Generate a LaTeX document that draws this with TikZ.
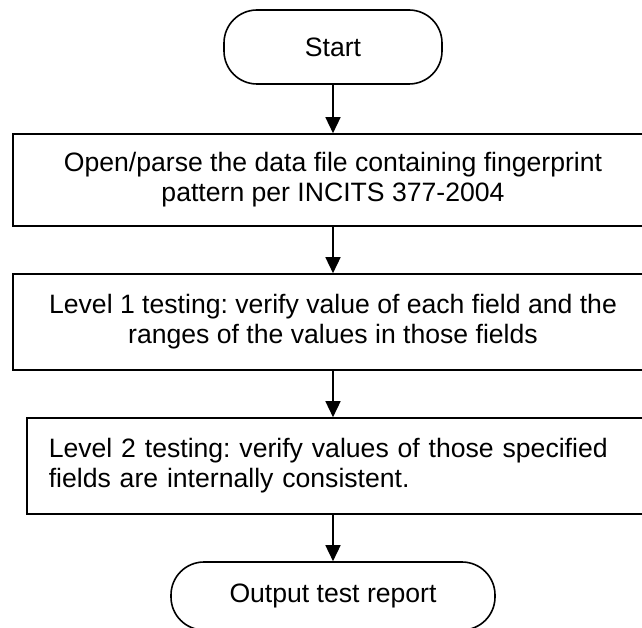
\documentclass[tikz,border=0pt]{standalone}
\usepackage{fontspec}
\setmainfont{Liberation Sans}
\usetikzlibrary{arrows.meta}
\frenchspacing
\begin{document}
\begin{tikzpicture}[x=1pt,y=-1pt,
  txt/.style={font=\fontsize{26.6}{30}\selectfont},
  box/.style={txt, draw, line width=1.6pt, rectangle, inner sep=0pt},
  term/.style={txt, draw, line width=1.6pt, rectangle, rounded corners=33pt, inner sep=0pt},
  arr/.style={line width=1.5pt, -{Triangle[length=16pt,width=15pt]}}]
\useasboundingbox (0,0) rectangle (642,628);
\clip (0,0) rectangle (642,628);
\node[term, minimum width=218pt, minimum height=74pt] (start) at (333,47) {Start};
\node[box, align=center, minimum width=640pt, minimum height=92pt] (b1) at (333,180)
  {Open/parse the data file containing fingerprint\\pattern per INCITS 377-2004};
\node[box, align=center, minimum width=640pt, minimum height=96pt] (b2) at (333,322)
  {Level 1 testing: verify value of each field and the\\ranges of the values in those fields};
\node[box, anchor=west, align=left, text width=620pt, inner xsep=22pt, minimum height=96pt] (b3) at (26,466)
  {Level 2 testing: verify values of those specified\\fields are internally consistent.};
\node[term, minimum width=324pt, minimum height=68pt] (out) at (333,596) {Output test report};
\draw[arr] (start) -- (b1);
\draw[arr] (b1) -- (b2);
\draw[arr] (b2.south) -- (b2.south |- b3.north);
\draw[arr] (b3.south -| out.north) -- (out.north);
\end{tikzpicture}
\end{document}
